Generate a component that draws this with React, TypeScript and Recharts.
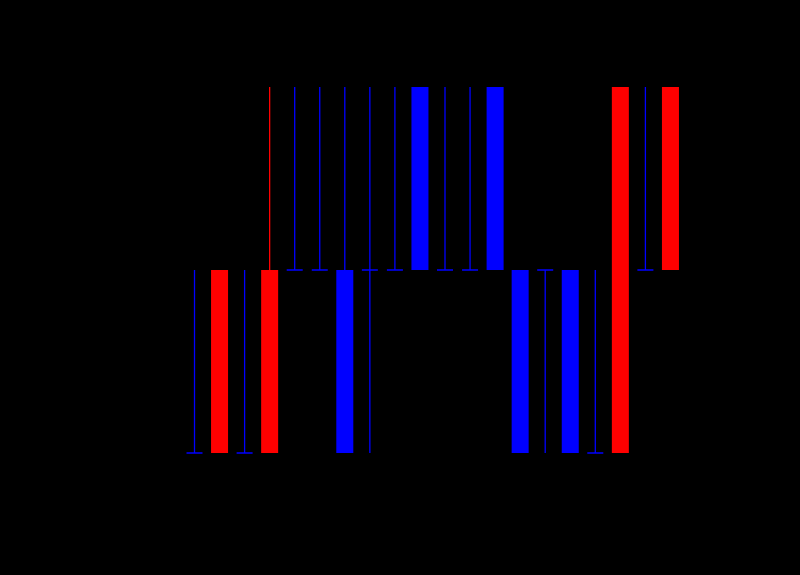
import { Bar, BarChart, XAxis, YAxis } from "recharts"

// 20 sessions, prices sit on three levels only
const sessions = [
  "1", "2", "3", "4", "5", "6", "7", "8", "9", "10",
  "11", "12", "13", "14", "15", "16", "17", "18", "19", "20",
]
const opens = [1, 1, 1, 1, 2, 2, 2, 2, 2, 3, 2, 2, 3, 2, 2, 2, 1, 1, 2, 2]
const highs = [2, 2, 2, 3, 3, 3, 3, 3, 3, 3, 3, 3, 3, 2, 2, 2, 2, 3, 3, 3]
const lows = [1, 1, 1, 1, 2, 2, 1, 1, 2, 2, 2, 2, 2, 1, 1, 1, 1, 1, 2, 2]
const closes = [1, 2, 1, 2, 2, 2, 1, 2, 2, 2, 2, 2, 2, 1, 2, 1, 1, 3, 2, 3]

const data = sessions.map((name, i) => ({
  name,
  open: opens[i],
  high: highs[i],
  low: lows[i],
  close: closes[i],
  range: [lows[i], highs[i]],
}))

const UP = "#ff0000"
const DOWN = "#0000ff"

function Candle(props: any) {
  const { x, y, width, height, payload } = props
  const { open, high, low, close } = payload
  const top = Math.min(y, y + height)
  const bottom = Math.max(y, y + height)
  const perUnit = (bottom - top) / (high - low)
  const py = (v: number) => top + (high - v) * perUnit
  const cx = x + width / 2
  const color = close > open ? UP : DOWN
  const bodyTop = py(Math.max(open, close))
  const bodyBottom = py(Math.min(open, close))
  return (
    <g>
      <line x1={cx} x2={cx} y1={top} y2={bottom} stroke={color} strokeWidth={1.3} />
      {bodyBottom - bodyTop < 1 ? (
        <line x1={cx - 8} x2={cx + 8} y1={bodyTop} y2={bodyTop} stroke={color} strokeWidth={1.5} />
      ) : (
        <rect x={x} y={bodyTop} width={width} height={bodyBottom - bodyTop} fill={color} />
      )}
    </g>
  )
}

export default function App() {
  return (
    <div style={{ position: "fixed", left: 0, top: 0, width: 800, height: 575, background: "#000" }}>
      <BarChart
        width={800}
        height={575}
        data={data}
        margin={{ top: 87, right: 117, bottom: 122, left: 182 }}
      >
        <XAxis dataKey="name" hide />
        <YAxis domain={[1, 3]} hide />
        <Bar dataKey="range" barSize={17} shape={<Candle />} isAnimationActive={false} />
      </BarChart>
    </div>
  )
}
